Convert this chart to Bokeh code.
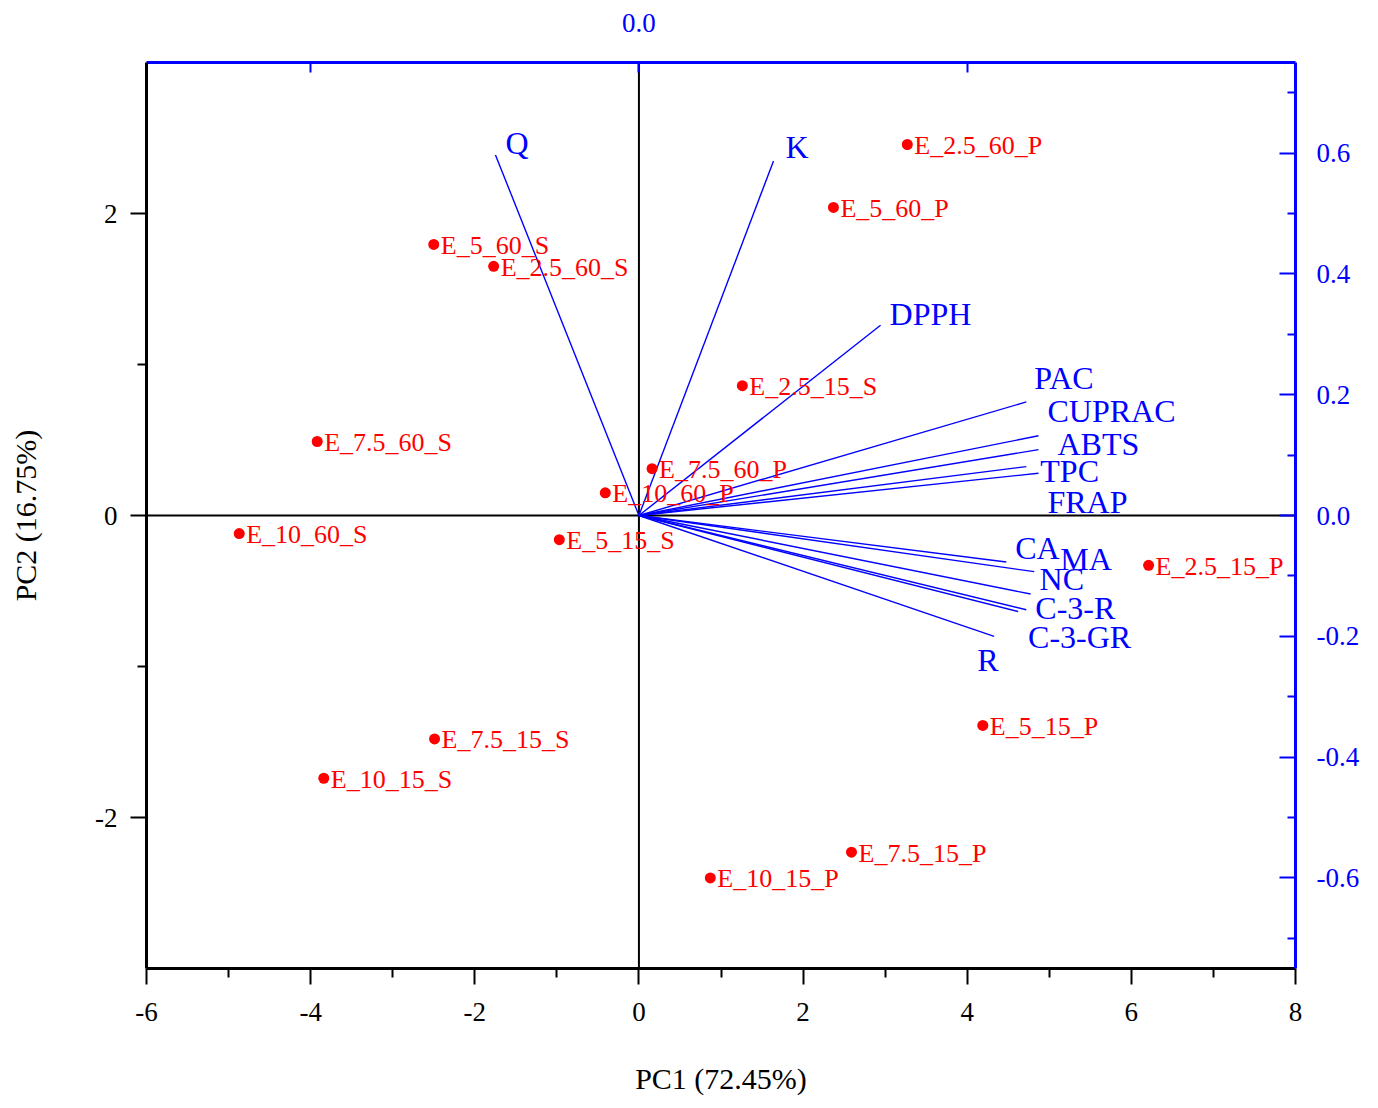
from bokeh.plotting import figure
from bokeh.models import (ColumnDataSource, Range1d, LinearAxis, FixedTicker,
                          PrintfTickFormatter, Span)
from bokeh.core.properties import value
from bokeh.embed import file_html
from bokeh.resources import INLINE

# ---- scores (samples) ----
samples = ["E_2.5_60_P", "E_5_60_P", "E_5_60_S", "E_2.5_60_S", "E_2.5_15_S",
           "E_7.5_60_S", "E_7.5_60_P", "E_10_60_P", "E_10_60_S", "E_5_15_S",
           "E_2.5_15_P", "E_5_15_P", "E_7.5_15_S", "E_10_15_S", "E_7.5_15_P",
           "E_10_15_P"]
pc1 = [3.27, 2.37, -2.50, -1.77, 1.26, -3.92, 0.16, -0.41, -4.87, -0.97,
       6.21, 4.19, -2.49, -3.84, 2.59, 0.87]
pc2 = [2.457, 2.04, 1.795, 1.65, 0.86, 0.49, 0.31, 0.15, -0.12, -0.16,
       -0.33, -1.39, -1.48, -1.74, -2.23, -2.40]

# ---- loadings (variables) ----
variables = ["Q", "K", "DPPH", "PAC", "CUPRAC", "ABTS", "TPC", "FRAP",
             "CA", "MA", "NC", "C-3-R", "C-3-GR", "R"]
load1 = [-0.437, 0.410, 0.736, 1.180, 1.217, 1.217, 1.180, 1.217,
         1.119, 1.204, 1.193, 1.180, 1.155, 1.082]
load2 = [0.597, 0.587, 0.315, 0.188, 0.132, 0.109, 0.081, 0.070,
         -0.077, -0.093, -0.130, -0.156, -0.159, -0.200]

# label placement offsets (pixels) for variable labels
lab_dx = [10, 12, 9, 8, 9, 19, 14, 9, 9, 26, 9, 9, 10, -17]
lab_dy = [-12, -14, -11, -24, -25, -6, 4, 29, -14, -13, -15, -2, 25, 24]

x_ticks = [-6, -4, -2, 0, 2, 4, 6, 8]
y_ticks = [-2, 0, 2]
ry_ticks = [-0.6, -0.4, -0.2, 0.0, 0.2, 0.4, 0.6]
tx_ticks = [0.0]

BLUE = "#0000FF"
RED = "#FF0000"
FONT = "Liberation Serif"

p = figure(width=1370, height=1108, output_backend="svg", toolbar_location=None,
           x_range=Range1d(-6, 8), y_range=Range1d(-3, 3),
           min_border_left=146, min_border_right=75,
           min_border_top=62, min_border_bottom=140)
p.extra_x_ranges = {"lx": Range1d(-1.5, 2.0)}
p.extra_y_ranges = {"ly": Range1d(-0.75, 0.75)}
p.outline_line_color = None
p.xgrid.visible = False
p.ygrid.visible = False
p.background_fill_color = "white"
p.border_fill_color = "white"

# bottom axis
xa = p.xaxis[0]
xa.ticker = FixedTicker(ticks=x_ticks, minor_ticks=[-5, -3, -1, 1, 3, 5, 7])
xa.formatter = PrintfTickFormatter(format="%d")
xa.axis_label = "PC1 (72.45%)"
xa.axis_line_width = 3
xa.axis_line_color = "black"
xa.major_tick_out = 16
xa.major_tick_in = 0
xa.minor_tick_out = 9
xa.minor_tick_in = 0
xa.major_tick_line_width = 2
xa.minor_tick_line_width = 2
xa.major_label_standoff = 18
xa.major_label_text_font = FONT
xa.major_label_text_font_size = "27px"
xa.major_label_text_color = "black"
xa.axis_label_text_font = FONT
xa.axis_label_text_font_size = "30px"
xa.axis_label_text_font_style = "normal"
xa.axis_label_text_color = "black"
xa.axis_label_standoff = 38

# left axis
ya = p.yaxis[0]
ya.ticker = FixedTicker(ticks=y_ticks, minor_ticks=[-1, 1])
ya.formatter = PrintfTickFormatter(format="%d")
ya.axis_label = "PC2 (16.75%)"
ya.axis_line_width = 3
ya.axis_line_color = "black"
ya.major_tick_out = 16
ya.major_tick_in = 0
ya.minor_tick_out = 9
ya.minor_tick_in = 0
ya.major_tick_line_width = 2
ya.minor_tick_line_width = 2
ya.major_label_standoff = 13
ya.major_label_text_font = FONT
ya.major_label_text_font_size = "27px"
ya.major_label_text_color = "black"
ya.axis_label_text_font = FONT
ya.axis_label_text_font_size = "30px"
ya.axis_label_text_font_style = "normal"
ya.axis_label_text_color = "black"
ya.axis_label_standoff = 50

# right axis (loadings PC2)
ra = LinearAxis(y_range_name="ly",
                ticker=FixedTicker(ticks=ry_ticks,
                                   minor_ticks=[-0.7, -0.5, -0.3, -0.1, 0.1, 0.3, 0.5, 0.7]),
                formatter=PrintfTickFormatter(format="%.1f"))
ra.axis_line_width = 3
ra.axis_line_color = BLUE
ra.major_tick_line_color = BLUE
ra.minor_tick_line_color = BLUE
ra.major_tick_out = 0
ra.major_tick_in = 16
ra.minor_tick_out = 0
ra.minor_tick_in = 8
ra.major_tick_line_width = 2
ra.minor_tick_line_width = 2
ra.major_label_standoff = 21
ra.major_label_text_font = FONT
ra.major_label_text_font_size = "27px"
ra.major_label_text_color = BLUE
p.add_layout(ra, "right")

# top axis (loadings PC1)
ta = LinearAxis(x_range_name="lx",
                ticker=FixedTicker(ticks=tx_ticks, minor_ticks=[-1.0, 1.0]),
                formatter=PrintfTickFormatter(format="%.1f"))
ta.axis_line_width = 3
ta.axis_line_color = BLUE
ta.major_tick_line_color = BLUE
ta.minor_tick_line_color = BLUE
ta.major_tick_out = 0
ta.major_tick_in = 10
ta.minor_tick_out = 0
ta.minor_tick_in = 10
ta.major_tick_line_width = 2
ta.minor_tick_line_width = 2
ta.major_label_standoff = 31
ta.major_label_text_font = FONT
ta.major_label_text_font_size = "27px"
ta.major_label_text_color = BLUE
p.add_layout(ta, "above")

# origin cross lines
p.add_layout(Span(location=0, dimension="height", line_color="black",
                  line_width=2, level="underlay"))
p.add_layout(Span(location=0, dimension="width", line_color="black",
                  line_width=2, level="underlay"))

# loading vectors
vsrc = ColumnDataSource(dict(x0=[0.0] * len(variables), y0=[0.0] * len(variables),
                             x1=load1, y1=load2, name=variables,
                             dx=lab_dx, dy=lab_dy))
p.segment(x0="x0", y0="y0", x1="x1", y1="y1", source=vsrc,
          x_range_name="lx", y_range_name="ly",
          line_color=BLUE, line_width=1.4)
p.text(x="x1", y="y1", text="name", source=vsrc,
       x_range_name="lx", y_range_name="ly",
       x_offset="dx", y_offset="dy",
       text_font=value(FONT), text_font_size="32px", text_color=BLUE,
       text_align="left", text_baseline="middle")

# score points
ssrc = ColumnDataSource(dict(x=pc1, y=pc2, name=samples))
p.scatter(x="x", y="y", source=ssrc, size=11, fill_color=RED,
          line_color=None, marker="circle")
p.text(x="x", y="y", text="name", source=ssrc, x_offset=7, y_offset=1,
       text_font=value(FONT), text_font_size="26px", text_color=RED,
       text_align="left", text_baseline="middle")

open("out.html", "w").write(file_html(p, INLINE))
